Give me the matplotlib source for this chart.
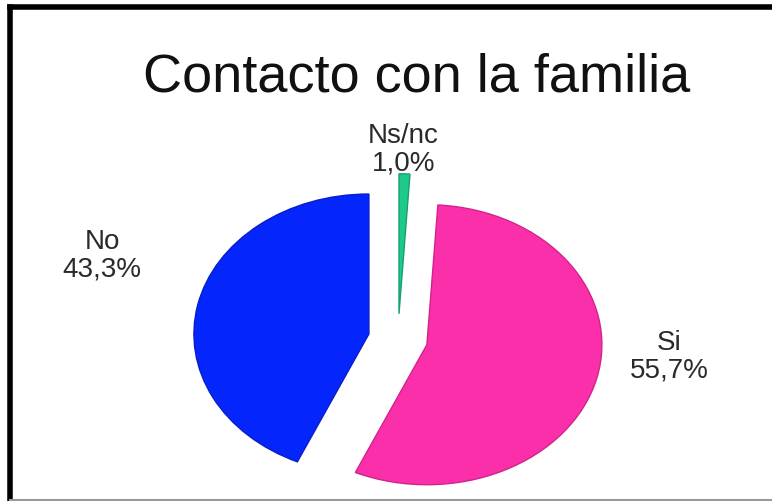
import matplotlib
matplotlib.use("Agg")
import matplotlib.pyplot as plt
from matplotlib.lines import Line2D

plt.rcParams['font.family'] = ['Liberation Sans', 'DejaVu Sans']

title = "Contacto con la familia"
categories = ["Ns/nc", "Si", "No"]
values = [1.0, 55.7, 43.3]
pct_labels = ["1,0%", "55,7%", "43,3%"]
colors = ["#1ec98a", "#fc2fab", "#0425fb"]
edge_colors = ["#14a070", "#d0248c", "#0a1ec8"]
explode = [0.18, 0.17, 0.17]
# label anchor positions (axes data units)
label_pos = [(0.03, 1.36), (1.55, -0.12), (-1.69, 0.6)]

W, H = 772, 502
fig = plt.figure(figsize=(W / 100, H / 100), dpi=100)
ax = fig.add_axes([0, 0, 1, 1])

wedges, _ = ax.pie(values, colors=colors, explode=explode, startangle=90,
                   counterclock=False,
                   wedgeprops=dict(linewidth=1.0))
for w, ec in zip(wedges, edge_colors):
    w.set_edgecolor(ec)

ax.set_aspect('auto')
cx, cy, rx, ry = 398, 340, 175, 140
ax.set_xlim(-cx / rx, (W - cx) / rx)
ax.set_ylim(-(H - cy) / ry, cy / ry)
ax.axis('off')

for name, pct, (lx, ly) in zip(categories, pct_labels, label_pos):
    ax.text(lx, ly, f"{name}\n{pct}", ha='center', va='center',
            fontsize=20, color='#2a2a2a', linespacing=1.05)

fig.text((143 + 690) / 2 / W, 1 - 77 / H, title, ha='center', va='center',
         fontsize=39, color='#111111')

# frame border
fig.add_artist(Line2D([10 / W, 10 / W], [0, 1 - 8 / H], transform=fig.transFigure,
                      color='black', linewidth=4, solid_capstyle='projecting'))
fig.add_artist(Line2D([10 / W, 1], [1 - 8 / H, 1 - 8 / H], transform=fig.transFigure,
                      color='black', linewidth=4, solid_capstyle='projecting'))
fig.add_artist(Line2D([10 / W, 1], [1.5 / H, 1.5 / H], transform=fig.transFigure,
                      color='#999999', linewidth=1.5))

fig.savefig("out.png", dpi=100)
